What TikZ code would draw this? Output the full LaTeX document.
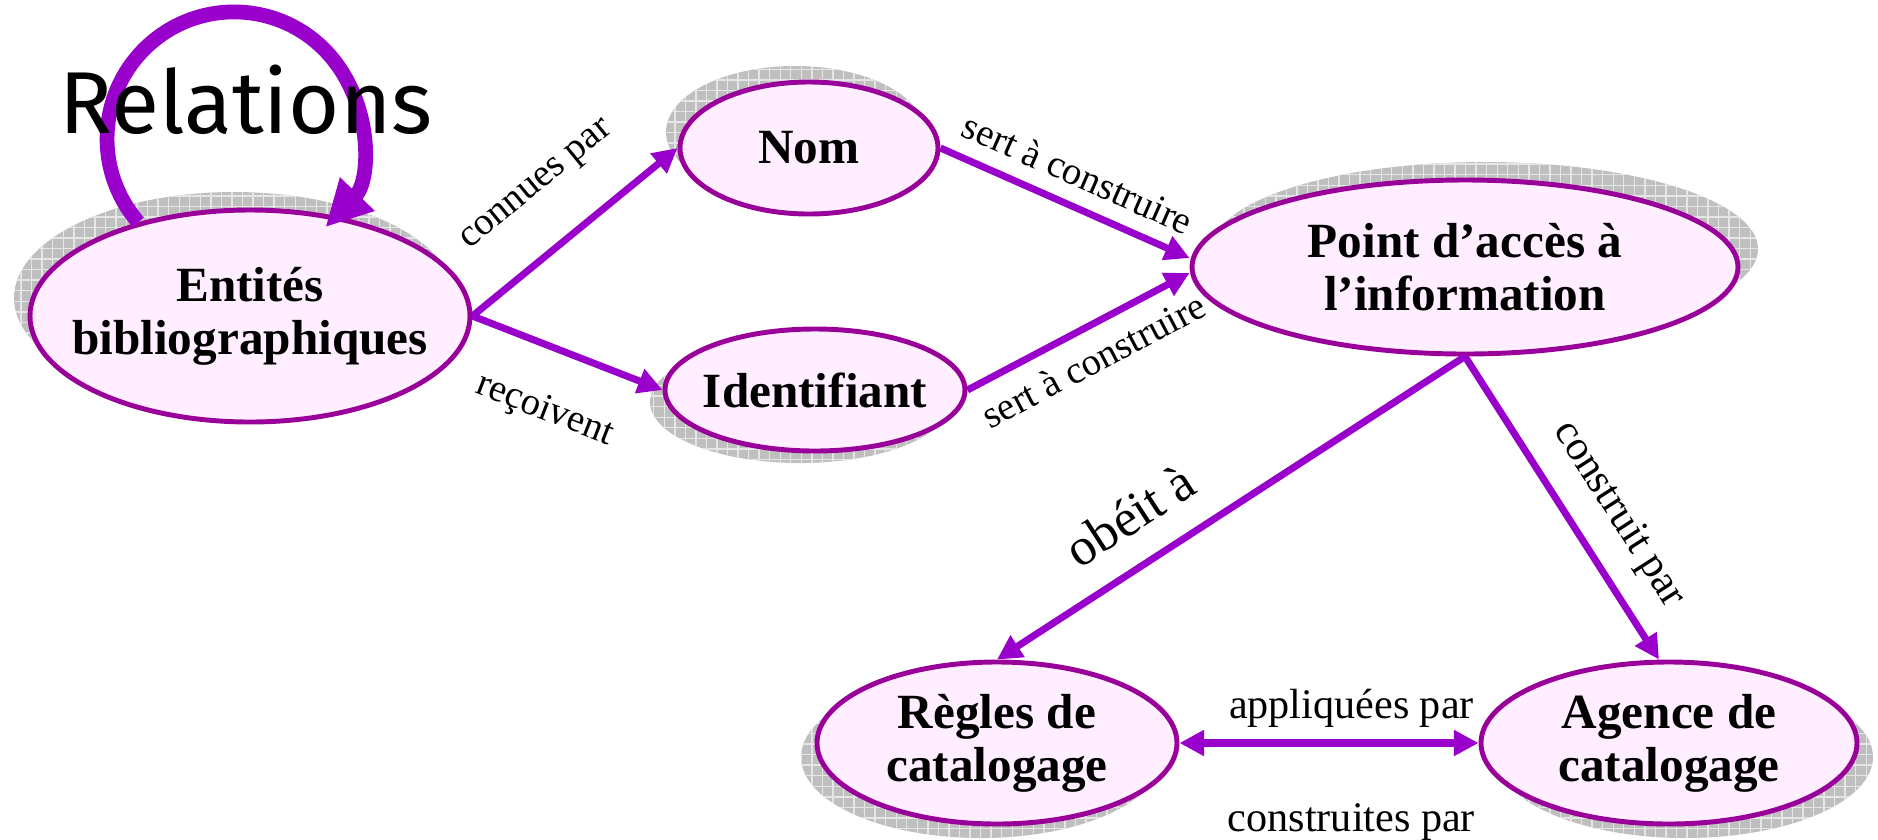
\documentclass[tikz,border=0pt]{standalone}
\usepackage{fontspec}
\setmainfont{Liberation Serif}
\newfontfamily\relfont{Fira Sans}
\usetikzlibrary{shapes.geometric, arrows.meta, patterns}
\definecolor{violeta}{RGB}{153,0,204}
\definecolor{bordeviol}{RGB}{153,0,153}
\definecolor{rosa}{RGB}{255,238,255}

\begin{document}
\begin{tikzpicture}[
    boite/.style={ellipse, draw=bordeviol, line width=1.4pt, fill=rosa, inner sep=0pt},
    titre/.style={align=center, font=\fontsize{14}{15}\selectfont\bfseries},
    sombra/.style={fill=gray!50, postaction={pattern=grid, pattern color=gray!20}},
    fleche/.style={-{Triangle[length=7pt,width=7pt]}, line width=2pt, violeta},
    etiq/.style={sloped, text=black, font=\fontsize{11}{12}\selectfont}
  ]
  \useasboundingbox (0,0) rectangle (18.78,-8.39);
  % sombras
  \fill[sombra] (2.34,-2.98) ellipse (2.20 and 1.06);
  \fill[sombra] (7.95,-1.32) ellipse (1.29 and 0.66);
  \fill[sombra] (8.00,-4.02) ellipse (1.50 and 0.61);
  \fill[sombra] (14.85,-2.49) ellipse (2.73 and 0.87);
  \fill[sombra] (9.81,-7.57) ellipse (1.80 and 0.81);
  \fill[sombra] (16.85,-7.57) ellipse (1.88 and 0.81);
  % entidades
  \node[boite, minimum width=4.40cm, minimum height=2.12cm,
    label={[titre]center:Entités\\bibliographiques}] (ent) at (2.50,-3.16) {};
  \node[boite, minimum width=2.58cm, minimum height=1.32cm,
    label={[titre]center:Nom}] (nom) at (8.09,-1.48) {};
  \node[boite, minimum width=3.00cm, minimum height=1.22cm,
    label={[titre]center:Identifiant}] (ident) at (8.15,-3.90) {};
  \node[boite, minimum width=5.46cm, minimum height=1.74cm,
    label={[titre]center:Point d’accès à\\l’information}] (pt) at (14.65,-2.67) {};
  \node[boite, minimum width=3.60cm, minimum height=1.62cm,
    label={[titre]center:Règles de\\catalogage}] (regl) at (9.97,-7.43) {};
  \node[boite, minimum width=3.76cm, minimum height=1.62cm,
    label={[titre]center:Agence de\\catalogage}] (agen) at (16.69,-7.43) {};
  % relations
  \draw[line width=4.2pt, violeta, -{Triangle[length=0.46cm,width=0.45cm]}]
    (ent.140) arc[start angle=221, end angle=-44, radius=1.27];
  \node[font=\relfont\fontsize{25}{25}\selectfont, anchor=base] (rel) at (2.46,-1.33) {Relations};
  % flechas
  \draw[fleche] (ent.east) -- node[etiq, above=0.3cm] {connues par} (nom.west);
  \draw[fleche] (ent.east) -- node[etiq, below=0.3cm] {reçoivent} (ident.west);
  \draw[fleche] (nom.east) -- node[etiq, above=1pt] {sert à construire} ([yshift=0.09cm]pt.west);
  \draw[fleche] (ident.east) -- node[etiq, below=1pt] {sert à construire} ([yshift=-0.06cm]pt.west);
  \draw[fleche] (pt.south) -- node[etiq, above=0.15cm, pos=0.66, font=\fontsize{15}{16}\selectfont] {obéit à} (regl.north);
  \draw[fleche] (pt.south) -- node[etiq, above=0.1cm, pos=0.6, font=\fontsize{12}{13}\selectfont] {construit par} ([xshift=-0.1cm]agen.north);
  \draw[fleche, {Triangle[length=7pt,width=7pt]}-{Triangle[length=7pt,width=7pt]}] (regl) --
    node[pos=0.575, above, text=black, font=\fontsize{12}{13}\selectfont] {appliquées par}
    node[pos=0.575, below=0.45cm, text=black, font=\fontsize{12}{13}\selectfont] {construites par} (agen);
\end{tikzpicture}
\end{document}
